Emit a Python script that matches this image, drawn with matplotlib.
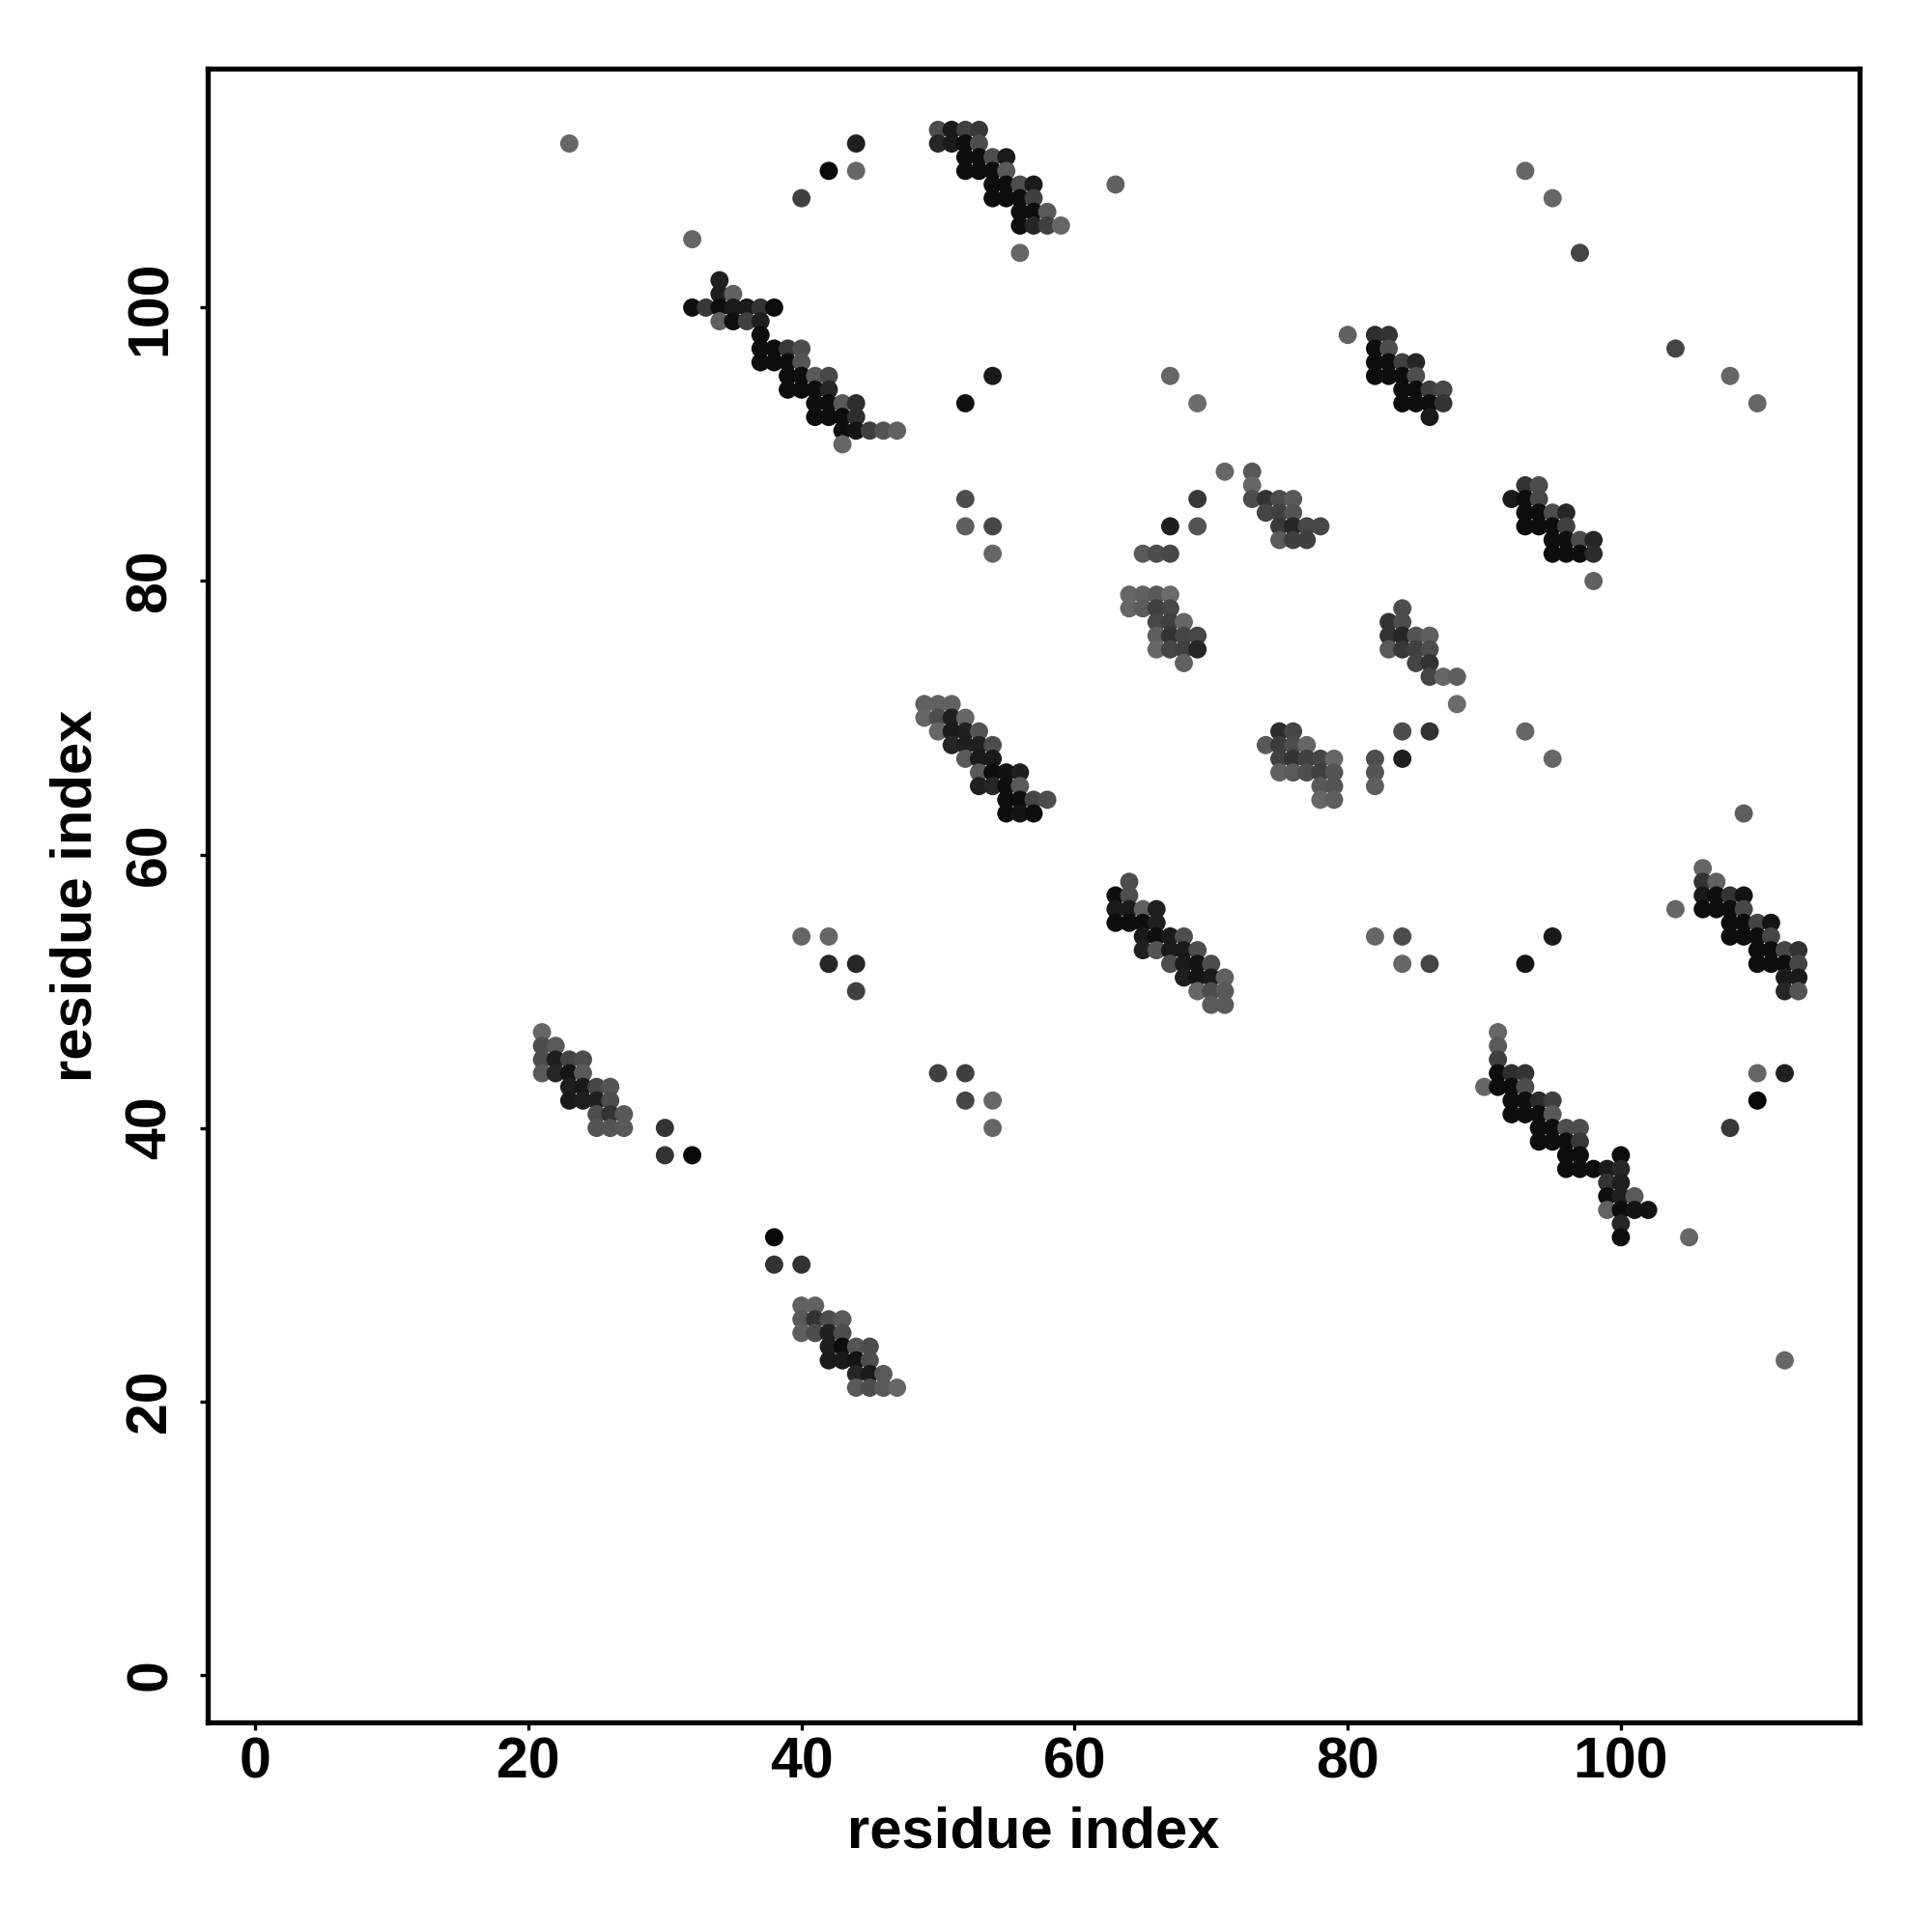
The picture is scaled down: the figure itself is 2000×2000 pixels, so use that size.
import matplotlib
matplotlib.use('Agg')
import matplotlib.pyplot as plt

# Contact map: (residue i, residue j, grey level 0=black .. 1=white)
cluster_a = [(34,102,.12),(34,101,.12),(35,101,.38),
             (32,100,.05),(33,100,.22),(34,100,.05),(35,100,.1),(36,100,.1),(37,100,.2),(38,100,.05),
             (34,99,.38),(35,99,.06),(36,99,.25),(37,99,.12),
             (37,98,.05),
             (37,97,.05),(38,97,.05),(39,97,.22),(40,97,.3),
             (37,96,.05),(38,96,.05),(39,96,.05),(40,96,.33),
             (39,95,.05),(40,95,.05),(41,95,.35),(42,95,.28),
             (39,94,.05),(40,94,.05),(41,94,.05),(42,94,.15),
             (41,93,.05),(42,93,.05),(43,93,.35),(44,93,.18),
             (41,92,.05),(42,92,.05),(43,92,.05),(44,92,.18),
             (43,91,.05),(44,91,.08),(45,91,.25),(46,91,.33),(47,91,.38),
             (43,90,.4)]
sparse_top = [(23,112,.4),(32,105,.4),(40,108,.25),(42,110,.03),(44,110,.4),(44,112,.12),
              (63,109,.38),(93,110,.4),(95,108,.4),(97,104,.27),(104,97,.27),(108,95,.4),
              (110,93,.4),(52,93,.06),(54,95,.1),(67,95,.4),(69,93,.42)]
cluster_b = [(50,113,.3),(51,113,.1),(52,113,.25),(53,113,.22),
             (50,112,.15),(51,112,.1),(52,112,.05),(53,112,.3),
             (52,111,.05),(53,111,.05),(54,111,.3),(55,111,.1),
             (52,110,.05),(53,110,.05),(54,110,.05),(55,110,.35),
             (54,109,.05),(55,109,.05),(56,109,.3),(57,109,.1),
             (54,108,.05),(55,108,.05),(56,108,.05),(57,108,.25),
             (56,107,.05),(57,107,.05),(58,107,.35),
             (56,106,.05),(57,106,.15),(58,106,.25),(59,106,.4),
             (56,104,.4)]
cluster_c = [(80,98,.38),(82,98,.18),(83,98,.2),
             (82,97,.05),(83,97,.3),
             (82,96,.05),(83,96,.05),(84,96,.25),(85,96,.15),
             (82,95,.05),(83,95,.05),(84,95,.05),(85,95,.3),
             (84,94,.05),(85,94,.05),(86,94,.25),(87,94,.28),
             (84,93,.05),(85,93,.05),(86,93,.05),(87,93,.2),
             (86,92,.1)]
cluster_d = [(93,87,.2),(94,87,.3),
             (92,86,.1),(93,86,.05),(94,86,.28),
             (93,85,.05),(94,85,.05),(95,85,.3),(96,85,.15),
             (93,84,.05),(94,84,.05),(95,84,.05),(96,84,.25),
             (95,83,.05),(96,83,.05),(97,83,.3),(98,83,.15),
             (95,82,.05),(96,82,.05),(97,82,.05),(98,82,.17),
             (98,80,.38)]
cluster_e = [(71,88,.4),(73,88,.35),(73,87,.4),
             (73,86,.3),(74,86,.2),(75,86,.3),(76,86,.35),
             (74,85,.27),(75,85,.25),(76,85,.33),
             (75,84,.22),(76,84,.15),(77,84,.28),(78,84,.28),
             (75,83,.35),(76,83,.25),(77,83,.25),
             (69,86,.22),(67,84,.12),(69,84,.33),
             (65,82,.35),(66,82,.3),(67,82,.28)]
cluster_f = [(64,79,.4),(65,79,.38),(66,79,.35),(67,79,.42),
             (64,78,.4),(65,78,.36),(66,78,.25),(67,78,.28),
             (66,77,.28),(67,77,.25),(68,77,.4),
             (66,76,.37),(67,76,.2),(68,76,.27),(69,76,.28),
             (66,75,.4),(67,75,.27),(68,75,.25),(69,75,.15),
             (68,74,.38)]
cluster_g = [(84,78,.3),(83,77,.2),(84,77,.3),
             (83,76,.2),(84,76,.15),(85,76,.33),(86,76,.37),
             (83,75,.35),(84,75,.22),(85,75,.25),(86,75,.3),
             (85,74,.27),(86,74,.2),
             (86,73,.27),(87,73,.4),(88,73,.37),
             (88,71,.42),
             (84,69,.3),(86,69,.2),(84,67,.12),(82,67,.3),(82,66,.33),(82,65,.37)]
cluster_h = [(75,69,.17),(76,69,.27),
             (74,68,.35),(75,68,.23),(76,68,.3),(77,68,.4),
             (75,67,.25),(76,67,.2),(77,67,.25),(78,67,.27),(79,67,.4),
             (75,66,.38),(76,66,.35),(77,66,.3),(78,66,.25),(79,66,.33),
             (78,65,.35),(79,65,.33),
             (78,64,.4),(79,64,.37),
             (93,69,.4),(95,67,.4)]
cluster_i = [(52,86,.3),(52,84,.37),(54,84,.28),(54,82,.4),
             (49,71,.38),(50,71,.38),(51,71,.38),
             (49,70,.4),(50,70,.3),(51,70,.12),(52,70,.4),
             (50,69,.4),(51,69,.1),(52,69,.12),(53,69,.33),
             (51,68,.15),(52,68,.12),(53,68,.12),(54,68,.3),
             (52,67,.35),(53,67,.1),(54,67,.1),
             (53,66,.35),(54,66,.05),(55,66,.07),(56,66,.12),
             (53,65,.12),(54,65,.15),(55,65,.05),(56,65,.35),
             (55,64,.05),(56,64,.05),(57,64,.27),(58,64,.3),
             (55,63,.05),(56,63,.08),(57,63,.05)]
cluster_j = [(64,58,.3),(63,57,.05),(64,57,.3),
             (63,56,.1),(64,56,.1),(65,56,.38),(66,56,.12),
             (63,55,.05),(64,55,.05),(65,55,.05),(66,55,.12),
             (65,54,.1),(66,54,.05),(67,54,.1),(68,54,.3),
             (65,53,.12),(66,53,.33),(67,53,.1),(68,53,.1),(69,53,.3),
             (67,52,.3),(68,52,.1),(69,52,.08),(70,52,.3),
             (68,51,.12),(69,51,.08),(70,51,.1),(71,51,.38),
             (69,50,.4),(70,50,.3),(71,50,.35),
             (70,49,.35),(71,49,.35),
             (82,54,.4),(84,54,.3),(84,52,.4),(86,52,.27)]
cluster_k = [(106,59,.4),(106,58,.2),(107,58,.38),
             (106,57,.1),(107,57,.05),(108,57,.2),(109,57,.08),
             (104,56,.4),(106,56,.05),(107,56,.05),(108,56,.05),(109,56,.28),
             (108,55,.05),(109,55,.05),(110,55,.27),(111,55,.08),
             (108,54,.05),(109,54,.05),(110,54,.05),(111,54,.27),
             (110,53,.05),(111,53,.05),(112,53,.28),(113,53,.2),
             (110,52,.05),(111,52,.05),(112,52,.05),(113,52,.27),
             (112,51,.1),(113,51,.1),
             (112,50,.15),(113,50,.33)]
sparse_right = [(109,63,.37),(95,54,.1),(93,52,.08),(110,44,.4),(112,44,.12),
                (110,42,.03),(108,40,.22),(105,32,.4),(112,23,.4)]
cluster_l = [(91,47,.4),(91,46,.35),(91,45,.25),
             (91,44,.05),(92,44,.18),(93,44,.2),
             (90,43,.4),(91,43,.05),(92,43,.05),(93,43,.3),
             (92,42,.05),(93,42,.05),(94,42,.17),(95,42,.25),
             (92,41,.05),(93,41,.05),(94,41,.05),(95,41,.35),
             (94,40,.05),(95,40,.05),(96,40,.3),(97,40,.3),
             (94,39,.05),(95,39,.05),(96,39,.05),(97,39,.22),
             (96,38,.05),(97,38,.05),(100,38,.05),
             (96,37,.05),(97,37,.05),(98,37,.05),(99,37,.1),(100,37,.15),
             (99,36,.2),(100,36,.12),
             (99,35,.05),(100,35,.12),(101,35,.35),
             (99,34,.38),(100,34,.05),(101,34,.08),(102,34,.08),
             (100,33,.15),(100,32,.05)]
cluster_m = [(21,47,.4),(21,46,.3),(22,46,.35),
             (21,45,.3),(22,45,.12),(23,45,.27),(24,45,.3),
             (21,44,.35),(22,44,.15),(23,44,.08),(24,44,.35),
             (23,43,.12),(24,43,.1),(25,43,.27),(26,43,.33),
             (23,42,.1),(24,42,.12),(25,42,.12),(26,42,.3),
             (25,41,.3),(26,41,.2),(27,41,.35),
             (25,40,.33),(26,40,.33),(27,40,.35),
             (30,40,.2),(30,38,.2),(32,38,.03)]
sparse_mid = [(50,44,.25),(52,44,.25),(52,42,.27),(54,42,.4),(54,40,.4),
              (40,54,.4),(42,54,.4),(42,52,.15),(44,52,.15),(44,50,.25)]
cluster_n = [(38,32,.03),(38,30,.2),(40,30,.2),
             (40,27,.38),(41,27,.38),
             (40,26,.35),(41,26,.2),(42,26,.3),(43,26,.35),
             (40,25,.37),(41,25,.3),(42,25,.12),(43,25,.3),
             (42,24,.12),(43,24,.05),(44,24,.33),(45,24,.3),
             (42,23,.1),(43,23,.1),(44,23,.08),(45,23,.3),
             (44,22,.15),(45,22,.1),(46,22,.35),
             (44,21,.35),(45,21,.3),(46,21,.35),(47,21,.4)]

tick_values = [0, 20, 40, 60, 80, 100]

clusters = [cluster_a, sparse_top, cluster_b, cluster_c, cluster_d, cluster_e,
            cluster_f, cluster_g, cluster_h, cluster_i, cluster_j, cluster_k,
            sparse_right, cluster_l, cluster_m, sparse_mid, cluster_n]

plt.rcParams['font.family'] = ['Liberation Sans', 'DejaVu Sans']
plt.rcParams['font.weight'] = 'bold'

fig = plt.figure(figsize=(20, 20), dpi=100)
ax = fig.add_axes([0.1075, 0.1085, 0.855, 0.856])

for pts in clusters:
    xs = [p[0] for p in pts]
    ys = [p[1] for p in pts]
    cols = [(p[2], p[2], p[2]) for p in pts]
    ax.scatter(xs, ys, s=185, c=cols, edgecolors='none', zorder=3)

# R-style 4% padding around residues 1..113
ax.set_xlim(-3.48, 117.48)
ax.set_ylim(-3.48, 117.48)
ax.set_xticks(tick_values)
ax.set_yticks(tick_values)
ax.set_xticklabels([str(v) for v in tick_values], fontsize=42.5, fontweight='bold')
ax.set_yticklabels([str(v) for v in tick_values], fontsize=42.5, fontweight='bold',
                   rotation=90, va='center')

for sp in ax.spines.values():
    sp.set_linewidth(3.8)
ax.tick_params(direction='out', length=5.5, width=2.4, pad=5)
ax.tick_params(axis='y', pad=17)

ax.set_xlabel('residue index', fontsize=43, fontweight='bold', labelpad=12)
ax.set_ylabel('residue index', fontsize=43, fontweight='bold', labelpad=16)

fig.savefig('out.png', dpi=100, facecolor='white')
